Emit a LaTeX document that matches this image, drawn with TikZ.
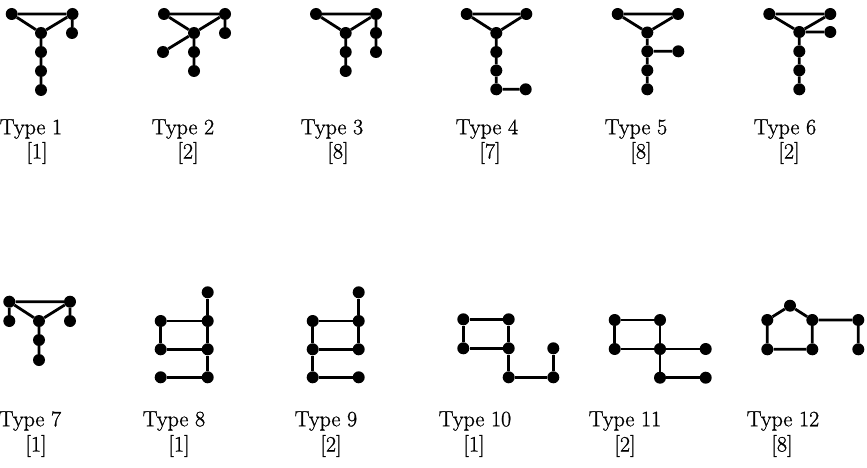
\documentclass[tikz,border=0pt]{standalone}
\usepackage{fontspec}
\newfontfamily\labfont[FakeBold=1]{Latin Modern Roman}
\begin{document}
\begin{tikzpicture}[x=1pt,y=-1pt,
  v/.style={circle,fill=black,inner sep=0pt,minimum size=12pt},
  e/.style={line width=2.8pt},
  lab/.style={font=\labfont\fontsize{22}{25}\selectfont,inner sep=0pt}]
\useasboundingbox (0,0) rectangle (867,468);

% ---------- Type 1 ----------
\node[v] (a1) at (11.7,14) {}; \node[v] (a2) at (72.5,14) {};
\node[v] (a3) at (41,33) {};   \node[v] (a4) at (72,33) {};
\node[v] (a5) at (41,52) {};   \node[v] (a6) at (41,71) {};
\node[v] (a7) at (41,90) {};
\draw[e] (a1)--(a2)--(a3)--(a1) (a2)--(a4) (a3)--(a5)--(a6)--(a7);
\node[lab] (ta) at (31,129) {Type 1}; \node[lab] (na) at (37,153) {[1]};

% ---------- Type 2 ----------
\node[v] (b1) at (164,14) {};  \node[v] (b2) at (225,14) {};
\node[v] (b3) at (194,33) {};  \node[v] (b4) at (225,33) {};
\node[v] (b5) at (163,52) {};  \node[v] (b6) at (194,52) {};
\node[v] (b7) at (194,71) {};
\draw[e] (b1)--(b2)--(b3)--(b1) (b2)--(b4) (b3)--(b5) (b3)--(b6)--(b7);
\node[lab] (tb) at (183,129) {Type 2}; \node[lab] (nb) at (188,153) {[2]};

% ---------- Type 3 ----------
\node[v] (c1) at (316,14) {};  \node[v] (c2) at (376,14) {};
\node[v] (c3) at (345.7,33) {}; \node[v] (c4) at (376,33) {};
\node[v] (c5) at (376,52) {};  \node[v] (c6) at (345.7,52) {};
\node[v] (c7) at (345.7,71) {};
\draw[e] (c1)--(c2)--(c3)--(c1) (c2)--(c4)--(c5) (c3)--(c6)--(c7);
\node[lab] (tc) at (332,129) {Type 3}; \node[lab] (nc) at (338,153) {[8]};

% ---------- Type 4 ----------
\node[v] (d1) at (466.7,14) {}; \node[v] (d2) at (526.3,14) {};
\node[v] (d3) at (496.3,33) {}; \node[v] (d4) at (496.3,52) {};
\node[v] (d5) at (496.3,70.5) {}; \node[v] (d6) at (496.3,89.3) {};
\node[v] (d7) at (525.7,89.3) {};
\draw[e] (d1)--(d2)--(d3)--(d1) (d3)--(d4)--(d5)--(d6)--(d7);
\node[lab] (td) at (487,129) {Type 4}; \node[lab] (nd) at (490,153) {[7]};

% ---------- Type 5 ----------
\node[v] (f1) at (617.7,14) {}; \node[v] (f2) at (678,14) {};
\node[v] (f3) at (647.3,32.5) {}; \node[v] (f4) at (647.3,51.3) {};
\node[v] (f5) at (678.3,51.3) {}; \node[v] (f6) at (647.3,70.3) {};
\node[v] (f7) at (647.3,89.3) {};
\draw[e] (f1)--(f2)--(f3)--(f1) (f3)--(f4)--(f6)--(f7) (f4)--(f5);
\node[lab] (tf) at (636,129) {Type 5}; \node[lab] (nf) at (641,153) {[8]};

% ---------- Type 6 ----------
\node[v] (g1) at (769.3,14) {}; \node[v] (g2) at (830.3,14) {};
\node[v] (g3) at (799.3,32) {}; \node[v] (g4) at (830.3,32) {};
\node[v] (g5) at (799.3,51.3) {}; \node[v] (g6) at (799.3,70.3) {};
\node[v] (g7) at (799.3,89.3) {};
\draw[e] (g1)--(g2)--(g3)--(g1) (g3)--(g4) (g3)--(g5)--(g6)--(g7);
\node[lab] (tg) at (785,129) {Type 6}; \node[lab] (ng) at (789,153) {[2]};

% ---------- Type 7 ----------
\node[v] (h1) at (9.3,301.7) {}; \node[v] (h2) at (70,301.7) {};
\node[v] (h3) at (9.3,321) {};   \node[v] (h4) at (70,321) {};
\node[v] (h5) at (39,321) {};    \node[v] (h6) at (39,340) {};
\node[v] (h7) at (39,360) {};
\draw[e] (h1)--(h2)--(h5)--(h1) (h1)--(h3) (h2)--(h4) (h5)--(h6)--(h7);
\node[lab] (th) at (30,421) {Type 7}; \node[lab] (nh) at (36,446) {[1]};

% ---------- Type 8 ----------
\node[v] (i1) at (207.7,292.3) {}; \node[v] (i2) at (207.7,321) {};
\node[v] (i3) at (160.7,321) {};   \node[v] (i4) at (160.7,349.3) {};
\node[v] (i5) at (207.7,349.3) {}; \node[v] (i6) at (160.7,377.3) {};
\node[v] (i7) at (207.7,377.3) {};
\draw[e] (i1)--(i2)--(i3)--(i4)--(i5)--(i2) (i5)--(i7)--(i6);
\node[lab] (ti) at (174,421) {Type 8}; \node[lab] (ni) at (179,446) {[1]};

% ---------- Type 9 ----------
\node[v] (j1) at (358.7,292.3) {}; \node[v] (j2) at (358.7,321) {};
\node[v] (j3) at (312.7,321) {};   \node[v] (j4) at (312.7,349.3) {};
\node[v] (j5) at (358.7,349.3) {}; \node[v] (j6) at (312.7,377.3) {};
\node[v] (j7) at (358.7,377.3) {};
\draw[e] (j1)--(j2)--(j3)--(j4)--(j5)--(j2) (j4)--(j6)--(j7);
\node[lab] (tj) at (326,421) {Type 9}; \node[lab] (nj) at (331,446) {[2]};

% ---------- Type 10 ----------
\node[v] (k1) at (463.3,319.3) {}; \node[v] (k2) at (508.7,319.3) {};
\node[v] (k3) at (463.3,348.3) {}; \node[v] (k4) at (508.7,348.3) {};
\node[v] (k5) at (508.7,377.3) {}; \node[v] (k6) at (553.3,377.3) {};
\node[v] (k7) at (553.3,348.3) {};
\draw[e] (k1)--(k2)--(k4)--(k3)--(k1) (k4)--(k5)--(k6)--(k7);
\node[lab] (tk) at (475,421) {Type 10}; \node[lab] (nk) at (474,446) {[1]};

% ---------- Type 11 ----------
\node[v] (l1) at (614.7,320) {}; \node[v] (l2) at (660,320) {};
\node[v] (l3) at (614.7,349) {}; \node[v] (l4) at (660,349) {};
\node[v] (l5) at (705.7,349) {}; \node[v] (l6) at (660,377.7) {};
\node[v] (l7) at (705.7,377.7) {};
\draw[e] (l1)--(l2)--(l4)--(l3)--(l1) (l4)--(l5) (l4)--(l6)--(l7);
\node[lab] (tl) at (625,421) {Type 11}; \node[lab] (nl) at (625,446) {[2]};

% ---------- Type 12 ----------
\node[v] (m1) at (790,305.7) {};   \node[v] (m2) at (767.3,320) {};
\node[v] (m3) at (812.3,320) {};   \node[v] (m4) at (767.3,349.3) {};
\node[v] (m5) at (812.3,349.3) {}; \node[v] (m6) at (858.3,320) {};
\node[v] (m7) at (858.3,349.3) {};
\draw[e] (m1)--(m2)--(m4)--(m5)--(m3)--(m1) (m3)--(m6)--(m7);
\node[lab] (tm) at (783,421) {Type 12}; \node[lab] (nm) at (782,446) {[8]};
\end{tikzpicture}
\end{document}
